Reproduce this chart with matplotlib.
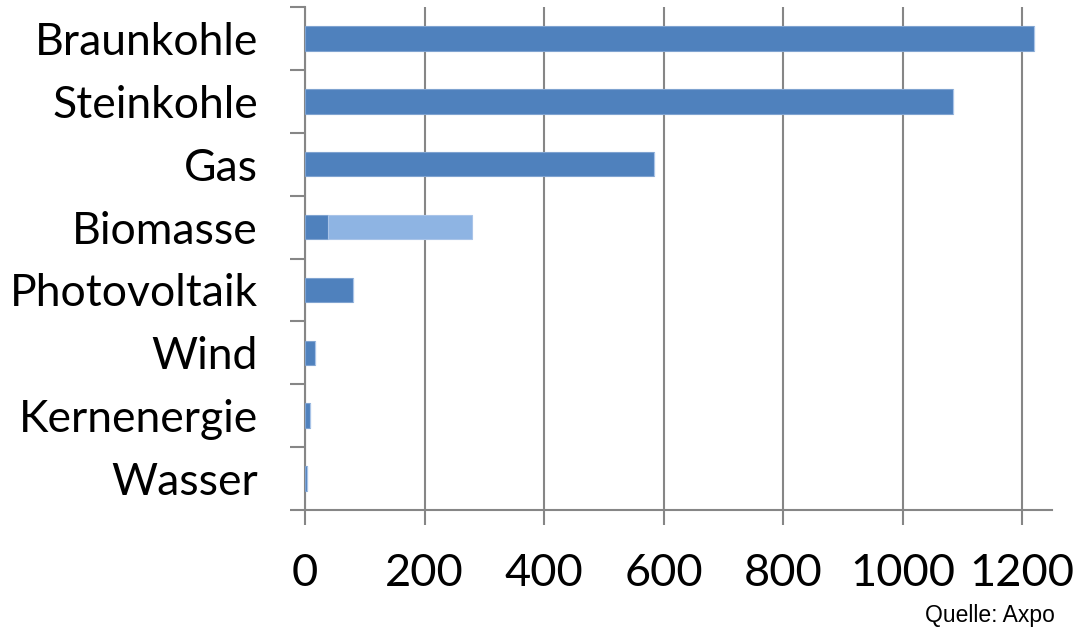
import numpy as np
import matplotlib as mpl
import matplotlib.pyplot as plt

mpl.use('Agg')

categories = ["Braunkohle", "Steinkohle", "Gas", "Biomasse",
              "Photovoltaik", "Wind", "Kernenergie", "Wasser"]
base = [1220, 1085, 584, 38, 80, 16, 9, 4]
extra = [0, 0, 0, 241, 0, 0, 0, 0]
xticks = [0, 200, 400, 600, 800, 1000, 1200]

dark = "#4F81BD"
light = "#8EB4E3"
grey = "#868686"

fig = plt.figure(figsize=(10.74, 6.33), dpi=100)
ax = fig.add_axes([0.284, 0.1943, 0.6955, 0.7946])

y = np.arange(len(categories))[::-1] + 0.5
ax.barh(y, base, height=0.39, color=dark, edgecolor="#7FA3D0", linewidth=0.8, zorder=3)
ax.barh(y, extra, left=base, height=0.39, color=light, edgecolor="#A9C4E8",
        linewidth=0.8, zorder=3)

ax.set_xlim(0, 1250)
ax.set_ylim(0, len(categories))

ax.set_xticks(xticks)
ax.set_xticklabels([str(v) for v in xticks], fontsize=32.5, family="Lato")
ax.set_yticks(np.arange(len(categories) + 1))
ax.set_yticklabels([])
ax.set_yticks(y, minor=True)
ax.set_yticklabels(categories, minor=True, fontsize=32, family="Lato")

ax.tick_params(axis="y", which="major", length=11, width=1.5, color=grey, direction="out")
ax.tick_params(axis="y", which="minor", length=0, pad=34)
ax.tick_params(axis="x", length=11, width=1.5, color=grey, direction="out", pad=20)

ax.grid(axis="x", color=grey, linewidth=1.5, zorder=0)
for side in ("top", "right"):
    ax.spines[side].set_visible(False)
for side in ("left", "bottom"):
    ax.spines[side].set_color(grey)
    ax.spines[side].set_linewidth(1.5)

fig.text(0.982, 0.017, "Quelle: Axpo", ha="right", va="baseline",
         fontsize=16.5, family="Liberation Sans")

fig.savefig("out.png", dpi=100)
